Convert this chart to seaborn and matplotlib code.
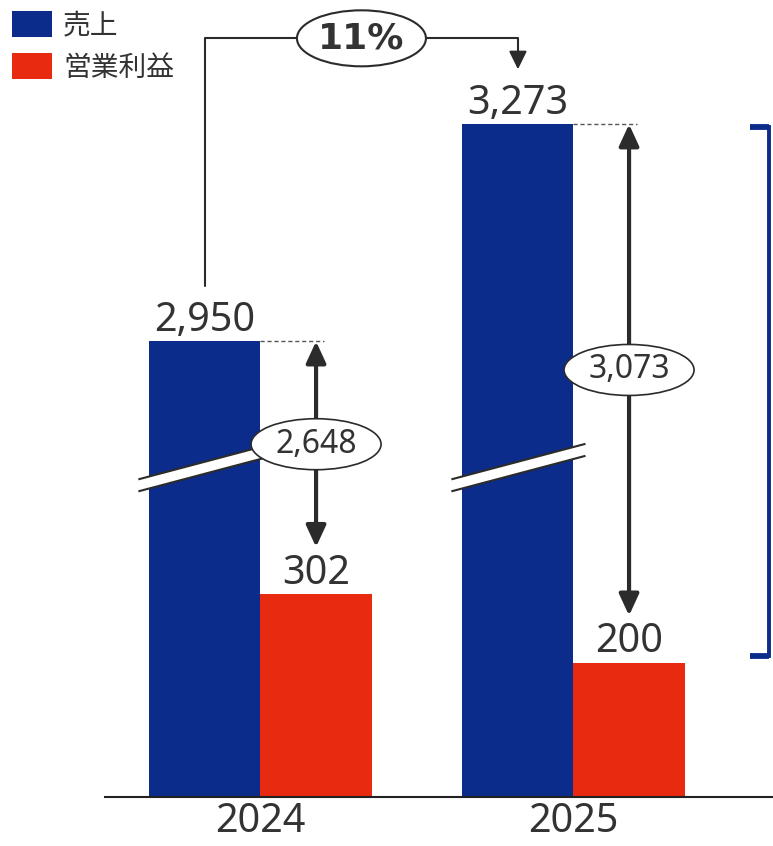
import matplotlib
matplotlib.use("Agg")
import matplotlib.pyplot as plt
from matplotlib.patches import Ellipse, Polygon, Patch
import seaborn as sns
import pandas as pd

# ---- data -------------------------------------------------------------
years = ["2024", "2025"]
series = ["売上", "営業利益"]
sales = [2950, 3273]
operating_profit = [302, 200]
axis_cut = 2272  # amount of each sales bar removed by the axis break

BLUE = "#0B2C8B"
RED = "#E72A10"
INK = "#333333"
DARK = "#2B2B2B"

sns.set_theme(style="white")
plt.rcParams["font.family"] = ["Noto Sans", "Noto Sans CJK JP", "DejaVu Sans"]

# ---- figure / axes frame (pixels) ------------------------------------
W, H, DPI = 773, 846, 100
fig = plt.figure(figsize=(W / DPI, H / DPI), dpi=DPI)
ax_left, ax_right, ax_bottom = 105, 773, 797
ax = fig.add_axes([ax_left / W, (H - ax_bottom) / H,
                   (ax_right - ax_left) / W, ax_bottom / H])

XLIM = (-0.4968, 1.6374)
YLIM = (0, 1186)
px_x = (ax_right - ax_left) / (XLIM[1] - XLIM[0])
px_y = ax_bottom / (YLIM[1] - YLIM[0])


def dx(p):
    return p / px_x


def dy(p):
    return p / px_y


# ---- bars ---------------------------------------------------------------
df = pd.DataFrame({
    "年": years * 2,
    "系列": [series[0]] * len(years) + [series[1]] * len(years),
    "値": sales + operating_profit,
})
df["表示"] = [v - axis_cut if s == series[0] else v
              for s, v in zip(df["系列"], df["値"])]

sns.barplot(data=df, x="年", y="表示", hue="系列", order=years,
            hue_order=series, palette=[BLUE, RED], saturation=1,
            width=0.71, linewidth=0, legend=False, ax=ax)

ax.set_xlim(*XLIM)
ax.set_ylim(*YLIM)
ax.set_xlabel("")
ax.set_ylabel("")
ax.set_yticks([])
ax.tick_params(axis="x", length=0, pad=3.5, labelsize=28.5, labelcolor=INK)
for side in ("top", "right", "left"):
    ax.spines[side].set_visible(False)
ax.spines["bottom"].set_color("#222222")
ax.spines["bottom"].set_linewidth(1.5)

sales_bars = list(ax.containers[0])
op_bars = list(ax.containers[1])

# value labels
for bars, values in ((sales_bars, sales), (op_bars, operating_profit)):
    for bar, v in zip(bars, values):
        ax.annotate(f"{v:,}", (bar.get_x() + bar.get_width() / 2, bar.get_height()),
                    xytext=(0, 7.5), textcoords="offset points",
                    ha="center", va="baseline", fontsize=28.5, color=INK)

# break marks across the sales bars
band_y = 490
slope = 0.265 * px_x / px_y
half = dy(6)
for bar in sales_bars:
    x0 = bar.get_x() - dx(11)
    x1 = bar.get_x() + bar.get_width() + dx(12)
    xm = bar.get_x() + bar.get_width() / 2

    def yb(x):
        return band_y + slope * (x - xm)

    ax.add_patch(Polygon([(x0, yb(x0) - half), (x1, yb(x1) - half),
                          (x1, yb(x1) + half), (x0, yb(x0) + half)],
                         closed=True, facecolor="white", edgecolor="none",
                         zorder=3, clip_on=False))
    for sgn in (-1, 1):
        ax.plot([x0, x1], [yb(x0) + sgn * half, yb(x1) + sgn * half],
                color=DARK, lw=1.5, zorder=4, solid_capstyle="butt")

# gap between sales and operating profit
gap_arrow = dy(47)
for sb, ob, s, o in zip(sales_bars, op_bars, sales, operating_profit):
    xo = ob.get_x() + ob.get_width() / 2
    top = sb.get_height()
    low = ob.get_height() + gap_arrow
    ax.plot([sb.get_x() + sb.get_width(), xo + dx(8)], [top, top],
            ls=(0, (3, 2)), lw=1, color="#555555", zorder=2)
    ax.annotate("", xy=(xo, top), xytext=(xo, low),
                arrowprops=dict(arrowstyle="<|-|>,head_length=0.65,head_width=0.3",
                                lw=3, color=DARK, shrinkA=0, shrinkB=0,
                                mutation_scale=20), zorder=4)
    ym = (top + low) / 2
    ax.add_patch(Ellipse((xo, ym), dx(130), dy(51), facecolor="white",
                         edgecolor=DARK, lw=1.2, zorder=5))
    ax.text(xo, ym, f"{s - o:,}", ha="center", va="center",
            fontsize=23, color=INK, zorder=6)

# year-over-year growth connector
xa = sales_bars[0].get_x() + sales_bars[0].get_width() / 2
xb = sales_bars[1].get_x() + sales_bars[1].get_width() / 2
ta = sales_bars[0].get_height()
tb = sales_bars[1].get_height()
y_conn = tb + dy(86)
growth = (sales[1] - sales[0]) / sales[0] * 100
ax.plot([xa, xa, xb, xb], [ta + dy(55), y_conn, y_conn, tb + dy(68)],
        color=DARK, lw=1.5, zorder=2, clip_on=False)
ax.annotate("", xy=(xb, tb + dy(55)), xytext=(xb, tb + dy(70)),
            arrowprops=dict(arrowstyle="-|>,head_length=0.55,head_width=0.27",
                            lw=1.5, color=DARK, shrinkA=0, shrinkB=0,
                            mutation_scale=20), zorder=3)
xc = (xa + xb) / 2
ax.add_patch(Ellipse((xc, y_conn), dx(129), dy(56), facecolor="white",
                     edgecolor=DARK, lw=1.5, zorder=5, clip_on=False))
ax.text(xc, y_conn, f"{growth:.0f}%", ha="center", va="center",
        fontsize=26, fontweight="bold", family=["DejaVu Sans"],
        color=INK, zorder=6)

# bracket spanning the 2025 bars
xr = op_bars[1].get_x() + op_bars[1].get_width() + dx(84)
b_top = tb - dy(2.5)
b_bot = op_bars[1].get_height() + dy(6.5)
ax.plot([xr, xr], [b_top, b_bot], color=BLUE, lw=2.8, solid_capstyle="projecting",
        clip_on=False)
for yy in (b_top, b_bot):
    ax.plot([xr - dx(19), xr], [yy, yy], color=BLUE, lw=4.2,
            solid_capstyle="butt", clip_on=False)

# legend
handles = [Patch(facecolor=BLUE, edgecolor="none"), Patch(facecolor=RED, edgecolor="none")]
leg = fig.legend(handles, series, loc="upper left", bbox_to_anchor=(12 / W, 1 - 11 / H),
                 frameon=False, fontsize=20, handlelength=40 / 27.8,
                 handleheight=30 / 27.8, handletextpad=0.4, labelspacing=0.45,
                 borderpad=0, borderaxespad=0)
for t in leg.get_texts():
    t.set_color(INK)

fig.savefig("out.png", dpi=DPI)
